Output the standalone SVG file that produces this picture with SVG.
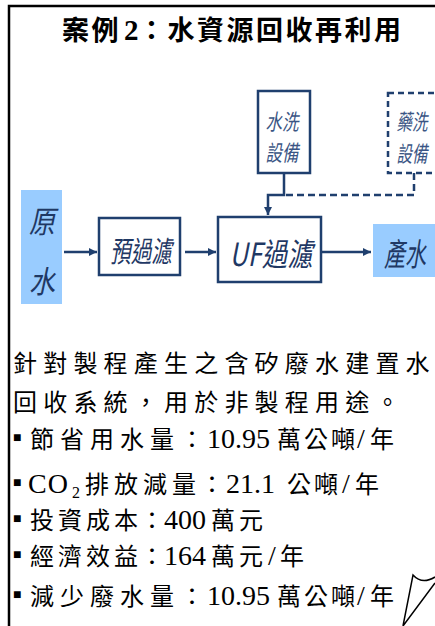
<svg xmlns="http://www.w3.org/2000/svg" width="435" height="626" viewBox="0 0 435 626">
<defs>
<style>
.box{fill:#fff;stroke:#1F3F6E;stroke-width:2.5}
.dbox{fill:#fff;stroke:#1F3F6E;stroke-width:2.5;stroke-dasharray:6 4}
.blue{fill:#99CCFF}
.lbl{font-family:"Noto Sans CJK TC","Liberation Sans",sans-serif;font-style:italic;fill:#1F3864;text-anchor:middle}
.sm{fill:#3A5584;font-size:22px}
.con{fill:none;stroke:#1F3F6E;stroke-width:2.5}
.dcon{fill:none;stroke:#1F3F6E;stroke-width:2.5;stroke-dasharray:7 4}
.cjk{font-family:"Noto Sans CJK TC",sans-serif;font-size:24px;fill:#000}
.lat{font-family:"Liberation Serif",serif;font-size:28px}
.sub{font-family:"Liberation Serif",serif;font-size:16px}
.bul{font-family:"Liberation Sans",sans-serif;font-size:14px;fill:#000}
.title{font-family:"Noto Sans CJK TC",sans-serif;font-size:27px;font-weight:bold;fill:#000}
</style>
<marker id="ah" viewBox="0 0 10 10" refX="10" refY="5" markerWidth="3.4" markerHeight="3.4" orient="auto" markerUnits="strokeWidth">
<path d="M0,0 L10,5 L0,10 z" fill="#1F3F6E"/>
</marker>
</defs>
<rect width="435" height="626" fill="#fff"/>
<path d="M9,626 V6 H435" fill="none" stroke="#000" stroke-width="2.5"/>
<g id="title">
<text class="title" y="40"><tspan x="62" letter-spacing="2.5">案例</tspan><tspan x="124" font-family="Liberation Serif" font-size="29">2</tspan><tspan x="138" letter-spacing="2.5">：水資源回收再利用</tspan></text>
</g>
<g id="connectors">
<line class="con" x1="64" y1="252" x2="97" y2="252" marker-end="url(#ah)"/>
<line class="con" x1="185" y1="252" x2="216" y2="252" marker-end="url(#ah)"/>
<line class="con" x1="321" y1="252" x2="371" y2="252" marker-end="url(#ah)"/>
<path class="dcon" d="M414,173 V195 H284"/>
<path class="con" d="M284,173 V195 H268 V215" marker-end="url(#ah)"/>
</g>
<g id="raw">
<rect class="blue" x="21" y="190" width="41" height="114"/>
<text class="lbl" font-size="31" x="42" y="233" textLength="26" lengthAdjust="spacingAndGlyphs">原</text>
<text class="lbl" font-size="31" x="42" y="293" textLength="26" lengthAdjust="spacingAndGlyphs">水</text>
</g>
<g id="prefilter">
<rect class="box" x="99" y="218" width="81" height="57"/>
<text class="lbl" font-size="29" x="141" y="262" textLength="62" lengthAdjust="spacingAndGlyphs">預過濾</text>
</g>
<g id="uf">
<rect class="box" x="218" y="217" width="103" height="65"/>
<text class="lbl" font-size="32" x="271" y="266" textLength="83" lengthAdjust="spacingAndGlyphs">UF過濾</text>
</g>
<g id="product">
<rect class="blue" x="373" y="224" width="62" height="53"/>
<text class="lbl" font-size="32" x="405" y="266" textLength="42" lengthAdjust="spacingAndGlyphs">產水</text>
</g>
<g id="wash">
<rect class="box" x="258" y="91" width="52" height="82" stroke-width="3"/>
<text class="lbl sm" x="282" y="130" textLength="33" lengthAdjust="spacingAndGlyphs">水洗</text>
<text class="lbl sm" x="282" y="161" textLength="33" lengthAdjust="spacingAndGlyphs">設備</text>
</g>
<g id="chemwash">
<rect class="dbox" x="388" y="93" width="52" height="80"/>
<text class="lbl sm" x="412" y="130" textLength="31" lengthAdjust="spacingAndGlyphs">藥洗</text>
<text class="lbl sm" x="412" y="162" textLength="31" lengthAdjust="spacingAndGlyphs">設備</text>
</g>
<g id="body">
<text class="cjk" x="13" y="372" letter-spacing="6.2">針對製程產生之含矽廢水建置水</text>
<text class="cjk" x="13" y="411" letter-spacing="6.2">回收系統，用於非製程用途。</text>
<text class="bul" x="13" y="442">■</text>
<text class="cjk" y="448"><tspan x="30" letter-spacing="6">節省用水量</tspan><tspan x="180">：</tspan><tspan class="lat" x="207">10.95</tspan><tspan x="277" letter-spacing="3">萬公噸</tspan><tspan class="lat" x="357">/</tspan><tspan x="370">年</tspan></text>
<text class="bul" x="13" y="487">■</text>
<text class="cjk" y="493"><tspan class="lat" x="28" letter-spacing="1">CO</tspan><tspan class="sub" x="72" dy="5">2</tspan><tspan x="85" dy="-5" letter-spacing="5">排放減量</tspan><tspan x="200">：</tspan><tspan class="lat" x="226">21.1</tspan><tspan x="287" letter-spacing="3">公噸</tspan><tspan class="lat" x="342">/</tspan><tspan x="355">年</tspan></text>
<text class="bul" x="13" y="523">■</text>
<text class="cjk" y="529"><tspan x="30" letter-spacing="4">投資成本</tspan><tspan x="140">：</tspan><tspan class="lat" x="164">400</tspan><tspan x="211" letter-spacing="4">萬元</tspan></text>
<text class="bul" x="13" y="559">■</text>
<text class="cjk" y="565"><tspan x="30" letter-spacing="4">經濟效益</tspan><tspan x="140">：</tspan><tspan class="lat" x="164">164</tspan><tspan x="211" letter-spacing="4">萬元</tspan><tspan class="lat" x="268">/</tspan><tspan x="280">年</tspan></text>
<text class="bul" x="13" y="599">■</text>
<text class="cjk" y="605"><tspan x="30" letter-spacing="6">減少廢水量</tspan><tspan x="180">：</tspan><tspan class="lat" x="207">10.95</tspan><tspan x="277" letter-spacing="3">萬公噸</tspan><tspan class="lat" x="357">/</tspan><tspan x="370">年</tspan></text>
</g>
<g id="callout">
<path d="M403,626 L413,575 Q422,585 435,577 M403,626 L435,583" fill="none" stroke="#000" stroke-width="1.5"/>
</g>
</svg>
